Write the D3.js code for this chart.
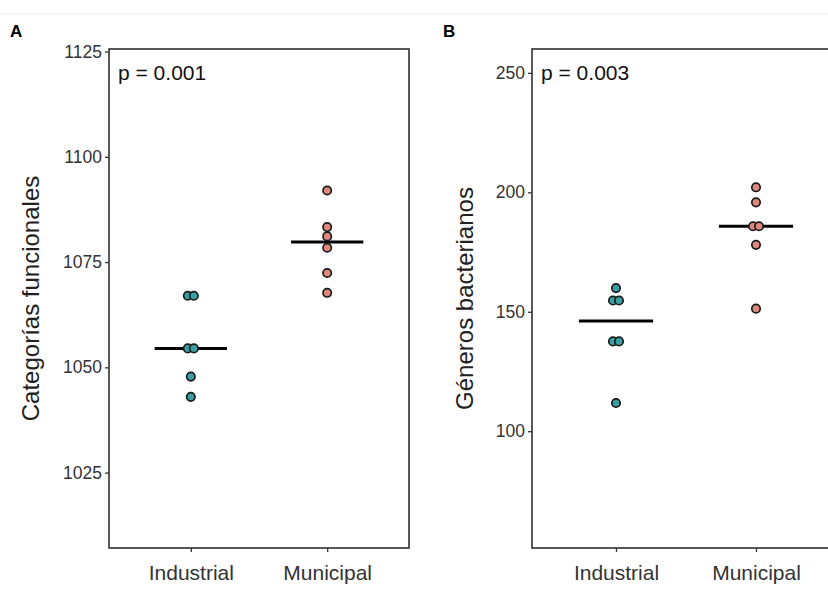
<!DOCTYPE html>
<html>
<head>
<meta charset="utf-8">
<script src="https://cdn.jsdelivr.net/npm/d3@7"></script>
<style>
    body { margin: 0; background: #fff; }
    text { font-family: "Liberation Sans", Arial, sans-serif; }
</style>
</head>
<body>
<div id="chart"></div>
<script>

/*
 *  DATA
 */

var groups = ["Industrial", "Municipal"];

// panel A - categorias funcionales
var funcIndustrial = [1067, 1067, 1054.5, 1054.5, 1047.8, 1043];
var funcMunicipal = [1092, 1083.3, 1081.1, 1078.4, 1072.4, 1067.7];
var funcTicks = [1025, 1050, 1075, 1100, 1125];

// panel B - generos bacterianos
var genIndustrial = [159.9, 154.7, 154.7, 137.6, 137.6, 111.8];
var genMunicipal = [202.1, 195.8, 185.8, 185.8, 178.0, 151.3];
var genTicks = [100, 150, 200, 250];

var colors = ["#3a9fa5", "#dc887d"];


var svg = d3.select("#chart")
    .append("svg")
    .attr("width", 828)
    .attr("height", 600);

// faint rule along the top of the figure
svg.append("line")
    .attr("x1", 0)
    .attr("x2", 828)
    .attr("y1", 14)
    .attr("y2", 14)
    .attr("stroke", "#ececec")
    .attr("stroke-width", 1);

function dotpanel(opts) {

    var g = svg.append("g")
        .attr("transform", "translate(" + opts.left + "," + opts.top + ")");

    var width = opts.width;
    var height = opts.height;

    var x_scale = d3.scalePoint()
        .domain(groups)
        .range([0, width])
        .padding(0.6);

    var y_scale = d3.scaleLinear()
        .domain(opts.domain)
        .range([height, 0]);

    var step = x_scale.step();

    // panel tag
    svg.append("text")
        .attr("x", opts.tagX)
        .attr("y", 37)
        .attr("font-size", 17)
        .attr("font-weight", "bold")
        .attr("fill", "#000")
        .text(opts.tag);

    g.append("rect")
        .attr("width", width)
        .attr("height", height)
        .attr("fill", "none")
        .attr("stroke", "#222")
        .attr("stroke-width", 1.5);

    var y_axis = g.append("g")
        .call(d3.axisLeft(y_scale)
            .tickValues(opts.ticks)
            .tickFormat(d3.format("d"))
            .tickSize(4)
            .tickPadding(3));
    y_axis.select(".domain").remove();
    y_axis.selectAll(".tick line").attr("stroke", "#333").attr("stroke-width", 1.3);
    y_axis.selectAll(".tick text")
        .attr("font-size", 17.5)
        .attr("fill", "#333")
        .style("font-family", "'Liberation Sans', Arial, sans-serif");

    var x_axis = g.append("g")
        .attr("transform", "translate(0," + height + ")")
        .call(d3.axisBottom(x_scale)
            .tickSize(4)
            .tickPadding(13));
    x_axis.select(".domain").remove();
    x_axis.selectAll(".tick line").attr("stroke", "#333").attr("stroke-width", 1.3);
    x_axis.selectAll(".tick text")
        .attr("font-size", 21)
        .attr("fill", "#333")
        .style("font-family", "'Liberation Sans', Arial, sans-serif");

    g.append("text")
        .attr("transform", "translate(" + opts.titleX + "," + height / 2 + ")rotate(-90)")
        .attr("text-anchor", "middle")
        .attr("font-size", 24)
        .attr("fill", "#222")
        .text(opts.title);

    g.append("text")
        .attr("x", 9)
        .attr("y", 31)
        .attr("font-size", 21)
        .attr("fill", "#111")
        .text(opts.p);

    opts.series.forEach(function(vals, i) {
        var cx = x_scale(groups[i]);
        var med = d3.median(vals);

        g.append("line")
            .attr("x1", cx - step * 0.265)
            .attr("x2", cx + step * 0.265)
            .attr("y1", y_scale(med))
            .attr("y2", y_scale(med))
            .attr("stroke", "#000")
            .attr("stroke-width", 3);

        // side by side dodge for equal values
        var pts = [];
        d3.groups(vals, function(v) { return v; }).forEach(function(gr) {
            var n = gr[1].length;
            gr[1].forEach(function(v, k) {
                pts.push({ v: v, dx: (k - (n - 1) / 2) * 6 });
            });
        });

        g.selectAll(".dot" + i)
            .data(pts)
            .enter()
            .append("circle")
            .attr("cx", function(d) { return cx + d.dx; })
            .attr("cy", function(d) { return y_scale(d.v); })
            .attr("r", 4.2)
            .attr("fill", colors[i])
            .attr("stroke", "#1a1a1a")
            .attr("stroke-width", 1.7);
    });
}

dotpanel({
    tag: "A", tagX: 10,
    left: 109, top: 49, width: 300, height: 499,
    domain: [1007.1, 1125.6],
    ticks: funcTicks,
    title: "Categorías funcionales", titleX: -70,
    p: "p = 0.001",
    series: [funcIndustrial, funcMunicipal]
});

dotpanel({
    tag: "B", tagX: 443,
    left: 532, top: 49, width: 308, height: 499,
    domain: [51.1, 260],
    ticks: genTicks,
    title: "Géneros bacterianos", titleX: -59,
    p: "p = 0.003",
    series: [genIndustrial, genMunicipal]
});

</script>
</body>
</html>
